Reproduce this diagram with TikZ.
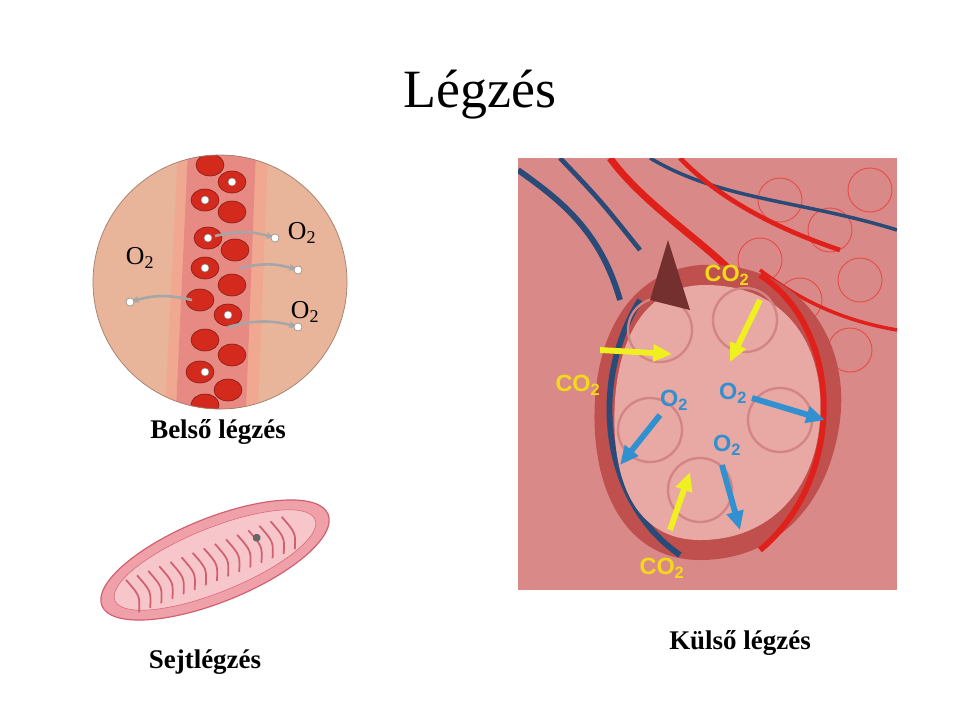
\documentclass[tikz,border=0pt]{standalone}
\usepackage{fontspec}
\setmainfont{Liberation Serif}
\newfontfamily\arialf{Liberation Sans}
\usetikzlibrary{arrows.meta}
\definecolor{peach}{HTML}{E8B49A}
\definecolor{vessel}{HTML}{F0A890}
\definecolor{blood}{HTML}{D42A1E}
\definecolor{alvbg}{HTML}{D98A88}
\definecolor{alvwall}{HTML}{C0504E}
\definecolor{alvin}{HTML}{E8A8A4}
\definecolor{artery}{HTML}{E0201A}
\definecolor{vein}{HTML}{2A4A78}
\definecolor{yarr}{HTML}{F0F020}
\definecolor{barr}{HTML}{3090D0}
\definecolor{mito}{HTML}{F0A0A8}
\definecolor{mitod}{HTML}{D06070}
\tikzset{
  lbl/.style={font=\fontsize{23}{26}\selectfont\bfseries},
  cell/.style={fill=blood,draw=blood!60!black,line width=0.5pt},
  gas/.style={font=\fontsize{22}{24}\selectfont},
  garr/.style={-{Stealth[length=8pt]},draw=gray!70,line width=2.2pt},
  yellowarr/.style={-{Triangle[length=16pt,width=14pt]},draw=yarr,line width=5pt},
  bluearr/.style={-{Triangle[length=16pt,width=14pt]},draw=barr,line width=5pt},
  cogas/.style={font=\arialf\bfseries\fontsize{20}{22}\selectfont,text=yarr!80!orange},
  ogas/.style={font=\arialf\bfseries\fontsize{20}{22}\selectfont,text=barr},
}
\begin{document}
\begin{tikzpicture}[x=0.03cm,y=-0.03cm]
\useasboundingbox (0,0) rectangle (960,720);
\fill[white] (0,0) rectangle (960,720);
\node (title) at (480,95) {\fontsize{46}{50}\selectfont Légzés};
% circle
\begin{scope}
\clip (220,282) circle (127);
\fill[peach] (90,150) rectangle (350,410);
\fill[vessel] (178,150) -- (268,150) -- (258,410) -- (165,410) -- cycle;
\fill[blood!55!white] (188,150) -- (256,150) -- (246,410) -- (176,410) -- cycle;
\foreach \x/\y in {210/165,232/182,205/200,232/212,208/238,235/250,205/268,232/285,200/300,228/315,205/340,232/355,200/372,228/390,205/405}
  \draw[cell] (\x,\y) ellipse (14 and 11);
\foreach \x/\y in {205/200,208/238,205/268,228/315,205/372,232/182}
  \fill[white,draw=gray] (\x,\y) circle (4);
\end{scope}
\draw[peach!70!black,line width=0.6pt] (220,282) circle (127);
\node[gas] (o2a) at (140,258) {O\textsubscript{2}};
\node[gas] (o2b) at (302,233) {O\textsubscript{2}};
\node[gas] (o2c) at (305,312) {O\textsubscript{2}};
\coordinate (sa) at (215,236); \coordinate (ea) at (275,238);
\coordinate (sb) at (240,268); \coordinate (eb) at (298,270);
\coordinate (sc) at (192,300); \coordinate (ec) at (130,302);
\coordinate (sd) at (228,327); \coordinate (ed) at (298,327);
\draw[garr] (sa) to[bend left=15] (ea);
\draw[garr] (sb) to[bend left=15] (eb);
\draw[garr] (sc) to[bend right=15] (ec);
\draw[garr] (sd) to[bend left=15] (ed);
\foreach \p in {ea,eb,ec,ed} \fill[white,draw=gray] (\p) circle (4);
\node[lbl] (belso) at (218,432) {Belső légzés};
% mitochondrion
\begin{scope}[rotate around={22:(215,560)}]
\fill[mito,draw=mitod,line width=1pt] (215,560) ellipse (122 and 42);
\fill[mito!60!white,draw=mitod] (215,560) ellipse (108 and 32);
\foreach \i in {0,...,14}
  \draw[mitod,line width=1.5pt] (125+\i*12,545) .. controls (132+\i*12,565) .. (125+\i*12,580);
\fill[black!60] (262,555) circle (4);
\end{scope}
\node[lbl] (sejt) at (205,662) {Sejtlégzés};
% alveoli
\begin{scope}
\clip (518,158) rectangle (897,590);
\fill[alvbg] (518,158) rectangle (897,590);
\foreach \x/\y in {780/200,830/230,860/280,800/300,870/190,760/260,850/350}
  \draw[artery!80!white,line width=0.8pt] (\x,\y) circle (22);
\draw[vein,line width=5pt] (518,170) .. controls (560,200) and (600,230) .. (620,300);
\draw[vein,line width=4pt] (560,158) .. controls (600,200) .. (640,250);
\draw[vein,line width=3pt] (650,158) .. controls (720,200) and (800,200) .. (897,230);
\draw[artery,line width=6pt] (610,158) .. controls (640,200) and (700,240) .. (730,270);
\draw[artery,line width=4pt] (680,158) .. controls (720,200) and (780,230) .. (840,250);
\draw[artery,line width=3pt] (760,270) .. controls (800,300) and (840,320) .. (897,330);
\fill[alvwall] (700,265) .. controls (800,260) and (850,340) .. (840,420)
  .. controls (830,500) and (780,560) .. (700,560)
  .. controls (620,560) and (590,480) .. (595,400)
  .. controls (600,320) and (640,270) .. (700,265) -- cycle;
\draw[artery,line width=5pt] (760,275) .. controls (845,330) and (845,480) .. (760,550);
\draw[vein,line width=5pt] (640,300) .. controls (590,380) and (600,500) .. (680,555);
\fill[alvin] (705,285) .. controls (790,285) and (825,350) .. (820,420)
  .. controls (815,490) and (770,540) .. (700,540)
  .. controls (635,540) and (610,480) .. (615,400)
  .. controls (620,330) and (650,285) .. (705,285) -- cycle;
\foreach \x/\y in {660/330,745/320,650/430,780/420,700/490}
  \draw[alvwall!70!white,line width=2pt] (\x,\y) circle (32);
\fill[alvwall!60!black] (650,300) -- (668,240) -- (690,310) -- cycle;
\end{scope}
\node[cogas] (co2a) at (727,275) {CO\textsubscript{2}};
\node[cogas] (co2b) at (578,385) {CO\textsubscript{2}};
\node[cogas] (co2c) at (662,568) {CO\textsubscript{2}};
\node[ogas] (o2d) at (674,400) {O\textsubscript{2}};
\node[ogas] (o2e) at (733,393) {O\textsubscript{2}};
\node[ogas] (o2f) at (727,445) {O\textsubscript{2}};
\coordinate (y1s) at (760,300); \coordinate (y1e) at (730,362);
\coordinate (y2s) at (600,350); \coordinate (y2e) at (672,354);
\coordinate (y3s) at (670,530); \coordinate (y3e) at (690,472);
\coordinate (b1s) at (660,415); \coordinate (b1e) at (620,465);
\coordinate (b2s) at (752,398); \coordinate (b2e) at (825,420);
\coordinate (b3s) at (722,465); \coordinate (b3e) at (740,530);
\draw[yellowarr] (y1s) -- (y1e);
\draw[yellowarr] (y2s) -- (y2e);
\draw[yellowarr] (y3s) -- (y3e);
\draw[bluearr] (b1s) -- (b1e);
\draw[bluearr] (b2s) -- (b2e);
\draw[bluearr] (b3s) -- (b3e);
\node[lbl] (kulso) at (740,643) {Külső légzés};
\end{tikzpicture}
\end{document}
